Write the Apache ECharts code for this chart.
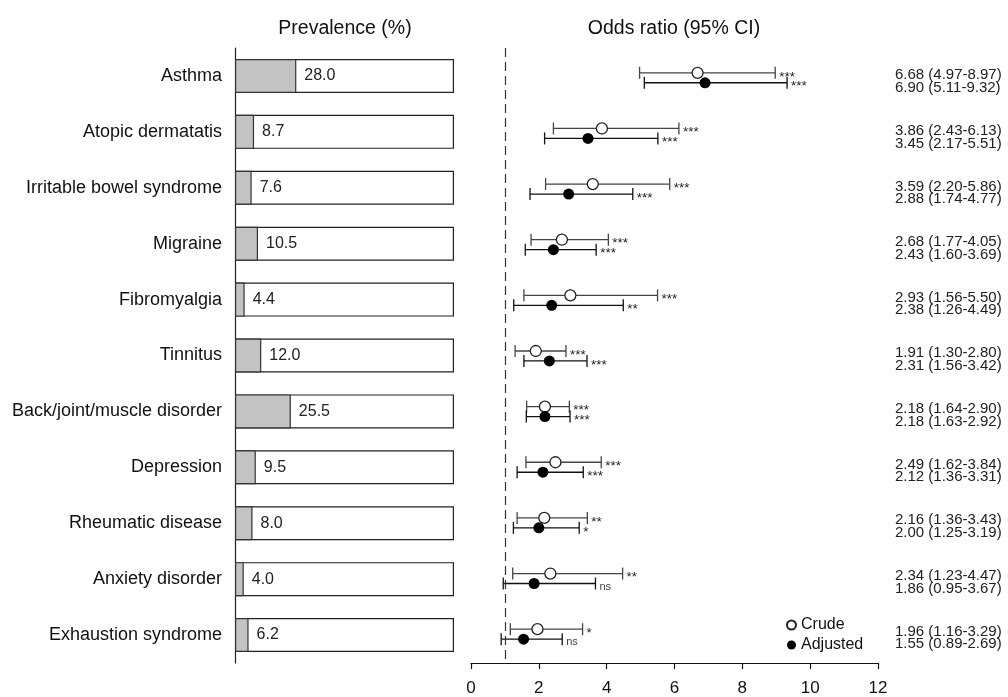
<!DOCTYPE html>
<html>
<head>
<meta charset="utf-8">
<script src="https://cdn.jsdelivr.net/npm/echarts@6/dist/echarts.min.js"></script>
<style>html,body{margin:0;padding:0;background:#fff}#c{width:1008px;height:697px}</style>
</head>
<body>
<div id="c"></div>
<script>
const categories = ['Asthma','Atopic dermatatis','Irritable bowel syndrome','Migraine','Fibromyalgia','Tinnitus','Back/joint/muscle disorder','Depression','Rheumatic disease','Anxiety disorder','Exhaustion syndrome'];
const prevalence = [28.0, 8.7, 7.6, 10.5, 4.4, 12.0, 25.5, 9.5, 8.0, 4.0, 6.2];
const crudeOR = [6.68, 3.86, 3.59, 2.68, 2.93, 1.91, 2.18, 2.49, 2.16, 2.34, 1.96];
const crudeLo = [4.97, 2.43, 2.20, 1.77, 1.56, 1.30, 1.64, 1.62, 1.36, 1.23, 1.16];
const crudeHi = [8.97, 6.13, 5.86, 4.05, 5.50, 2.80, 2.90, 3.84, 3.43, 4.47, 3.29];
const crudeSig = ['***','***','***','***','***','***','***','***','**','**','*'];
const adjOR = [6.90, 3.45, 2.88, 2.43, 2.38, 2.31, 2.18, 2.12, 2.00, 1.86, 1.55];
const adjLo = [5.11, 2.17, 1.74, 1.60, 1.26, 1.56, 1.63, 1.36, 1.25, 0.95, 0.89];
const adjHi = [9.32, 5.51, 4.77, 3.69, 4.49, 3.42, 2.92, 3.31, 3.19, 3.67, 2.69];
const adjSig = ['***','***','***','***','**','***','***','***','*','ns','ns'];
const xTicks = [0, 2, 4, 6, 8, 10, 12];

const FONT = 'Liberation Sans, Arial, Helvetica, sans-serif';
const CRUDE_OFF = -0.054, ADJ_OFF = 0.125, TXT_C_OFF = -0.013, TXT_A_OFF = 0.215, TXT_X = 12.5;
const fmt = (o, l, h) => o.toFixed(2) + ' (' + l.toFixed(2) + '-' + h.toFixed(2) + ')';

const whiskerData = (lo, hi, off) => lo.map((v, i) => [v, hi[i], i + off, i]);
function whiskerRender(sig, color) {
  return function (params, api) {
    const lo = api.value(0), hi = api.value(1), y = api.value(2), idx = api.value(3);
    const a = api.coord([lo, y]), b = api.coord([hi, y]);
    const cap = 6;
    const s = sig[idx];
    const ls = { stroke: color, lineWidth: 1.3 };
    return { type: 'group', children: [
      { type: 'line', shape: { x1: a[0], y1: a[1], x2: b[0], y2: b[1] }, style: ls },
      { type: 'line', shape: { x1: a[0], y1: a[1] - cap, x2: a[0], y2: a[1] + cap }, style: ls },
      { type: 'line', shape: { x1: b[0], y1: b[1] - cap, x2: b[0], y2: b[1] + cap }, style: ls },
      { type: 'text', x: b[0] + 4, y: b[1] + (s === 'ns' ? 3 : 4), style: { text: s, fontFamily: FONT, fontSize: s === 'ns' ? 11 : 13.5, fill: s === 'ns' ? '#444' : '#222', textVerticalAlign: 'middle' } }
    ]};
  };
}
const textData = categories.map((c, i) => [TXT_X, i, i]);

const chart = echarts.init(document.getElementById('c'), null, { renderer: 'canvas' });
chart.setOption({
  animation: false,
  backgroundColor: '#fff',
  textStyle: { fontFamily: FONT },
  graphic: [
    { type: 'text', x: 345, y: 29, style: { text: 'Prevalence (%)', fontFamily: FONT, fontSize: 19.5, fill: '#111', textAlign: 'center', textVerticalAlign: 'middle' } },
    { type: 'text', x: 674, y: 29, style: { text: 'Odds ratio (95% CI)', fontFamily: FONT, fontSize: 19.5, fill: '#111', textAlign: 'center', textVerticalAlign: 'middle' } }
  ],
  legend: {
    data: ['Crude', 'Adjusted'], orient: 'vertical', left: 781, top: 612, itemGap: 4,
    itemWidth: 9, itemHeight: 9, icon: 'circle',
    textStyle: { fontSize: 16, color: '#111', fontFamily: FONT }
  },
  grid: [
    { left: 235, width: 219, top: 48, height: 615 },
    { left: 471, width: 407, top: 48, height: 615 }
  ],
  xAxis: [
    { gridIndex: 0, type: 'value', min: 0, max: 100, show: false },
    { gridIndex: 1, type: 'value', min: 0, max: 12, interval: 2, offset: 3,
      axisLine: { show: true, onZero: false, lineStyle: { color: '#111', width: 1.2 } },
      axisTick: { show: true, length: 6, lineStyle: { color: '#111', width: 1.2 } },
      axisLabel: { fontSize: 17, color: '#111', margin: 17, fontFamily: FONT,
        formatter: v => xTicks.indexOf(v) >= 0 ? String(v) : '' },
      splitLine: { show: false } }
  ],
  yAxis: [
    { gridIndex: 0, type: 'category', data: categories, inverse: true,
      axisLine: { show: true, lineStyle: { color: '#222', width: 1.2 } },
      axisTick: { show: false },
      axisLabel: { fontSize: 18, color: '#111', margin: 13, fontFamily: FONT } },
    { gridIndex: 1, type: 'value', min: -0.5, max: 10.5, inverse: true, show: false }
  ],
  series: [
    { type: 'bar', xAxisIndex: 0, yAxisIndex: 0, barWidth: 34, barGap: '-100%',
      data: prevalence.map(() => 100), silent: true,
      itemStyle: { color: '#fff', borderColor: '#222', borderWidth: 1.2 } },
    { type: 'bar', xAxisIndex: 0, yAxisIndex: 0, barWidth: 34, barGap: '-100%',
      data: prevalence,
      itemStyle: { color: '#c3c3c3', borderColor: '#333', borderWidth: 1.2 },
      label: { show: true, position: 'right', distance: 8, fontSize: 16, color: '#222', fontFamily: FONT,
        formatter: p => p.value.toFixed(1) } },
    { type: 'custom', xAxisIndex: 1, yAxisIndex: 1, data: whiskerData(crudeLo, crudeHi, CRUDE_OFF),
      renderItem: whiskerRender(crudeSig, '#444'),
      markLine: { silent: true, symbol: 'none', label: { show: false },
        lineStyle: { type: [9, 5], color: '#333', width: 1.2 }, data: [{ xAxis: 1 }] } },
    { type: 'custom', xAxisIndex: 1, yAxisIndex: 1, data: whiskerData(adjLo, adjHi, ADJ_OFF),
      renderItem: whiskerRender(adjSig, '#111') },
    { name: 'Crude', type: 'scatter', xAxisIndex: 1, yAxisIndex: 1, symbol: 'circle', symbolSize: 11, z: 5,
      data: crudeOR.map((v, i) => [v, i + CRUDE_OFF]),
      itemStyle: { color: '#fff', borderColor: '#222', borderWidth: 1.3, opacity: 1 } },
    { name: 'Adjusted', type: 'scatter', xAxisIndex: 1, yAxisIndex: 1, symbol: 'circle', symbolSize: 11, z: 5,
      data: adjOR.map((v, i) => [v, i + ADJ_OFF]),
      itemStyle: { color: '#000', opacity: 1 } },
    { type: 'custom', xAxisIndex: 1, yAxisIndex: 1, data: textData,
      renderItem: function (params, api) {
        const i = api.value(2);
        const pc = api.coord([api.value(0), i + TXT_C_OFF]);
        const pa = api.coord([api.value(0), i + TXT_A_OFF]);
        const st = { fontFamily: FONT, fontSize: 15, fill: '#222', textVerticalAlign: 'middle' };
        return { type: 'group', children: [
          { type: 'text', x: pc[0], y: pc[1], style: Object.assign({ text: fmt(crudeOR[i], crudeLo[i], crudeHi[i]) }, st) },
          { type: 'text', x: pa[0], y: pa[1], style: Object.assign({ text: fmt(adjOR[i], adjLo[i], adjHi[i]) }, st) }
        ]};
      } }
  ]
});
</script>
</body>
</html>
